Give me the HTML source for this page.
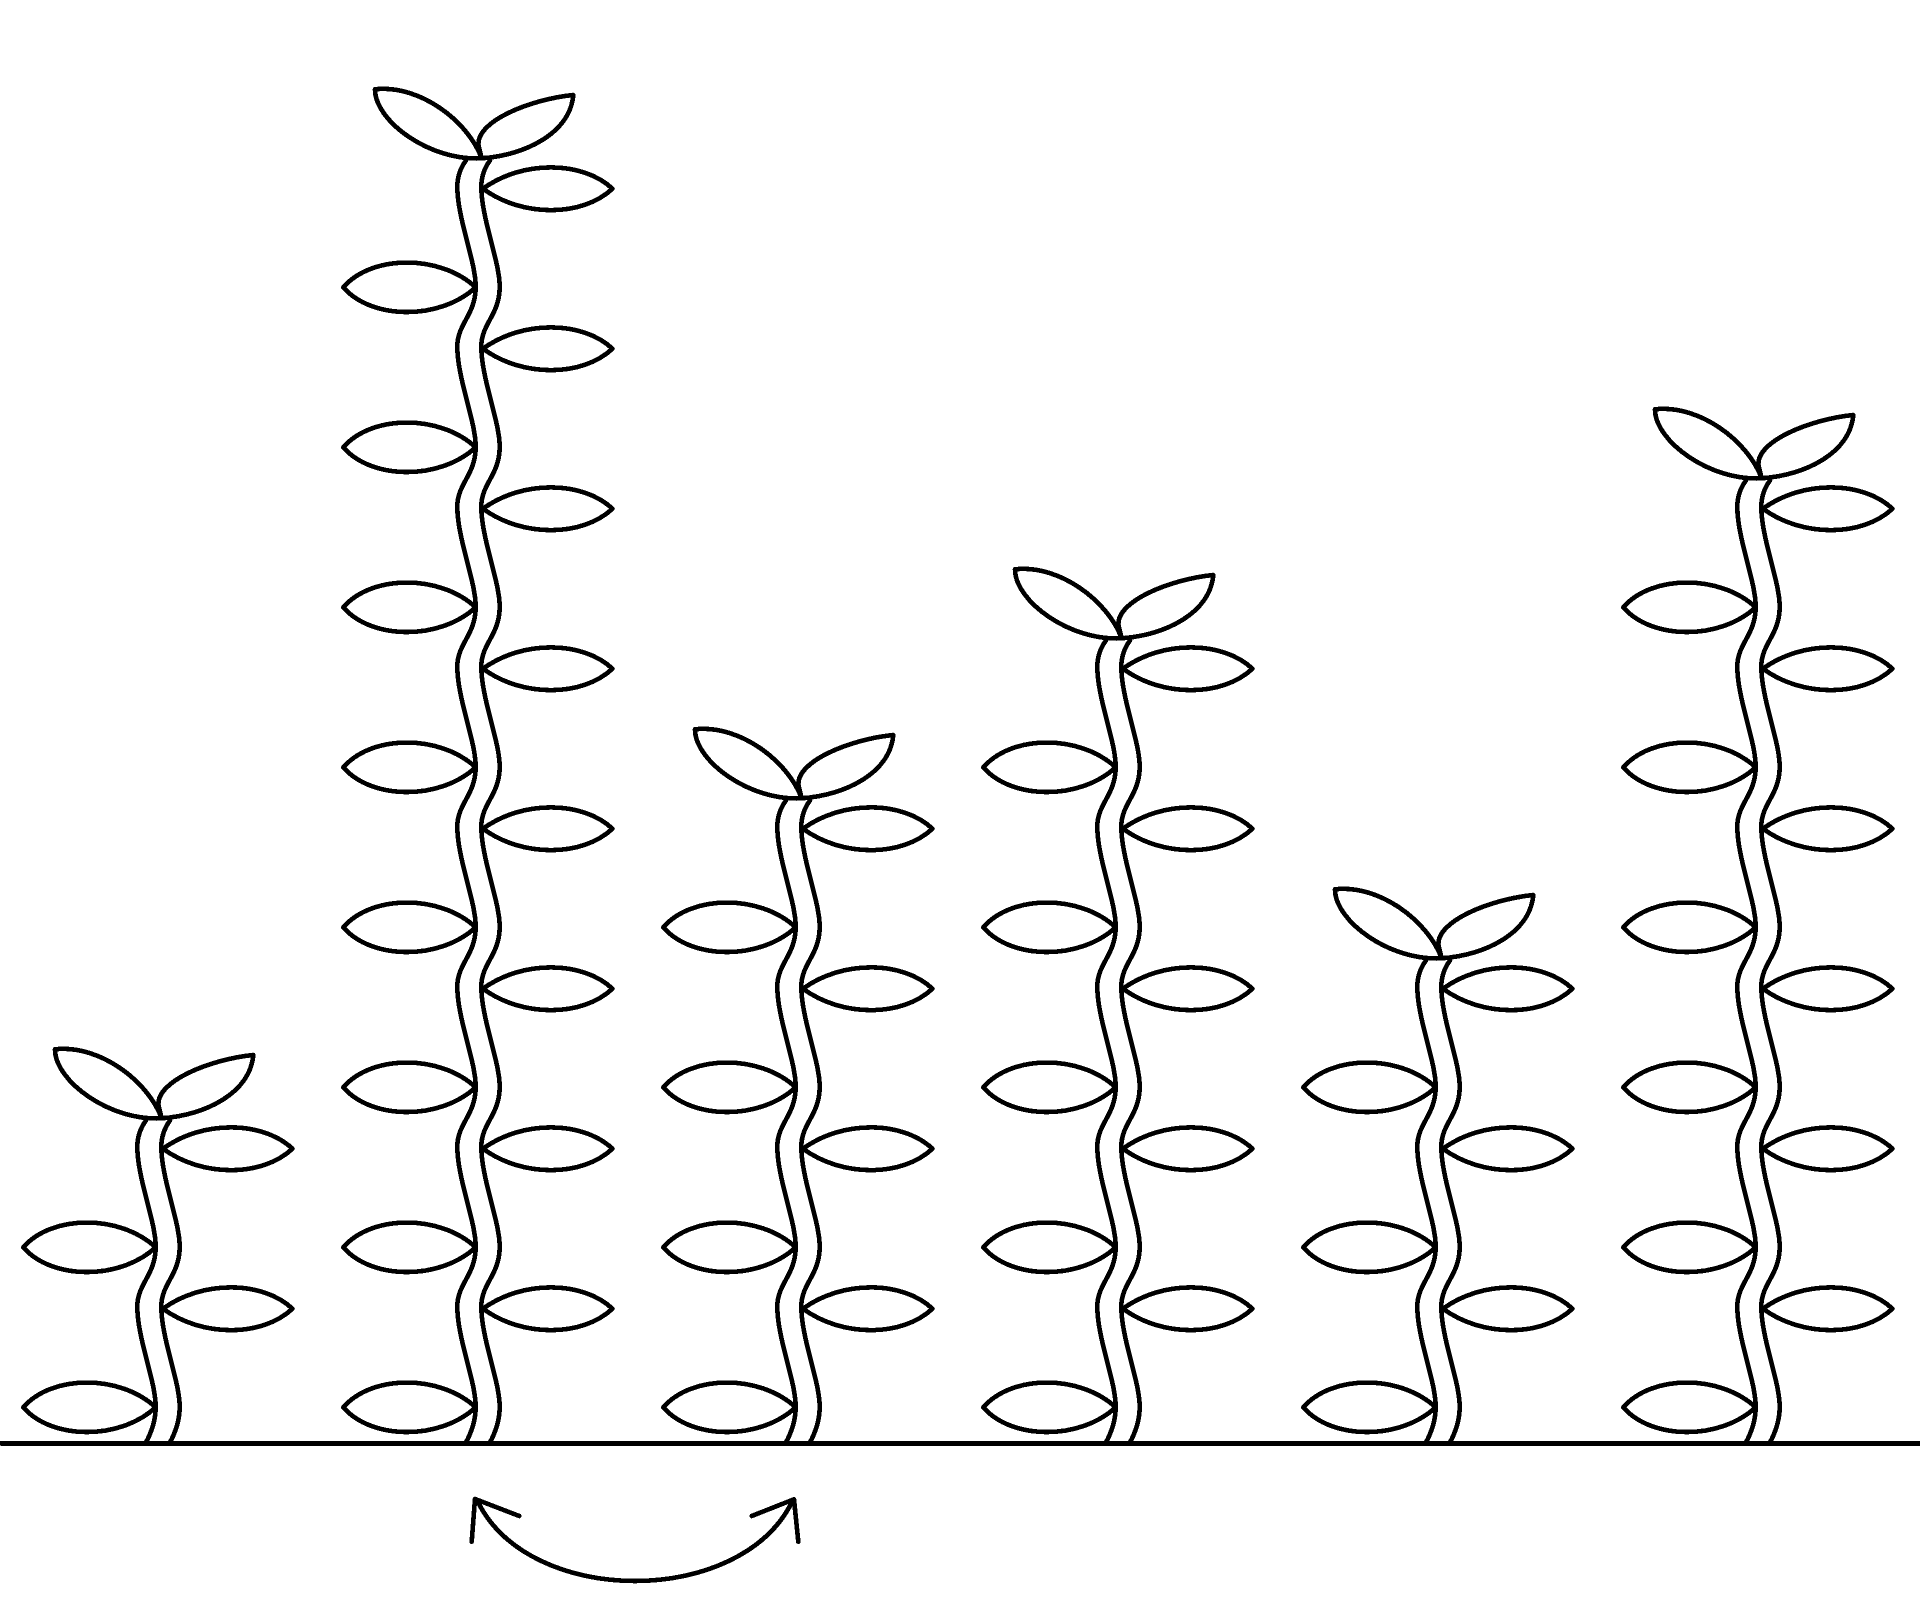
<!DOCTYPE html>
<html lang="en">
<head>
<meta charset="utf-8">
<title>Plant growth pictogram</title>
<style>
html,body{margin:0;padding:0;background:#fff;}
svg{display:block;}
</style>
</head>
<body>
<svg id="chart" xmlns="http://www.w3.org/2000/svg" width="1920" height="1621" viewBox="0 0 1920 1621" fill="none" stroke="#000" stroke-width="4.6" stroke-linecap="round" stroke-linejoin="round" shape-rendering="crispEdges">
  <rect x="0" y="0" width="1920" height="1621" fill="#fff" stroke="none"></rect>
  <g id="plants"></g>
  <line x1="1" y1="1443.4" x2="1920" y2="1443.4" stroke-width="4.7"></line>
  <g>
    <path d="M477 1500 C528 1608 742 1608 793 1500"></path>
    <path d="M519.3 1516 L475 1499 L471.7 1541.7"></path>
    <path d="M751.7 1516 L794 1499.3 L798.3 1541.7"></path>
  </g>
</svg>
<script>
const categories = ['plant-1', 'plant-2', 'plant-3', 'plant-4', 'plant-5', 'plant-6'];
const leafPairs = [2, 8, 4, 5, 3, 6];

const SVG_NS = 'http://www.w3.org/2000/svg';
const BASELINE = 1443.3;
const STEP_X = 320;
const UNIT_Y = 160;
const STEM_GAP = 24;

function xPos(i) { return i * STEP_X; }
function yPos(v) { return BASELINE - v * UNIT_Y; }

function stemPath(i, value, dx) {
  const ox = xPos(i) + dx;
  const p = (x, up) => (ox + x).toFixed(1) + ' ' + (BASELINE - up).toFixed(1);
  let d = 'M' + p(145.5, 0) + ' C' + p(151, 10) + ' ' + p(155.7, 22) + ' ' + p(155.7, 36.7);
  for (let k = 0; k < value; k++) {
    const u = k * UNIT_Y;
    d += ' C' + p(155.7, u + 62) + ' ' + p(137.3, u + 105) + ' ' + p(137.3, u + 136.7);
    if (k < value - 1) {
      d += ' C' + p(137.3, u + 160) + ' ' + p(155.7, u + 168) + ' ' + p(155.7, u + 196.7);
    }
  }
  const t = (value - 1) * UNIT_Y;
  d += ' C' + p(137.3, t + 148) + ' ' + p(141, t + 156) + ' ' + p(146, t + 163);
  return d;
}

function leafLeftPath(i, k) {
  const ox = xPos(i), oy = yPos(k);
  const p = (x, up) => (ox + x).toFixed(1) + ' ' + (oy - up).toFixed(1);
  return 'M' + p(23.3, 36) + ' C' + p(52, 69) + ' ' + p(120, 69) + ' ' + p(155.7, 36) +
         ' C' + p(120, 3) + ' ' + p(52, 3) + ' ' + p(23.3, 36) + ' Z';
}

function leafRightPath(i, k) {
  const ox = xPos(i), oy = yPos(k);
  const p = (x, up) => (ox + x).toFixed(1) + ' ' + (oy - up).toFixed(1);
  return 'M' + p(163, 134.6) + ' C' + p(202, 163) + ' ' + p(262, 163) + ' ' + p(292.5, 134.6) +
         ' C' + p(262, 106) + ' ' + p(202, 106) + ' ' + p(163, 134.6) + ' Z';
}

function crownLeftPath(i, value) {
  const ox = xPos(i), oy = yPos(value);
  const p = (x, up) => (ox + x).toFixed(1) + ' ' + (oy - up).toFixed(1);
  return 'M' + p(55, 74) + ' C' + p(100, 79) + ' ' + p(148, 42) + ' ' + p(161.7, 5) +
         ' C' + p(110, 2) + ' ' + p(55, 42) + ' ' + p(55, 74) + ' Z';
}

function crownRightPath(i, value) {
  const ox = xPos(i), oy = yPos(value);
  const p = (x, up) => (ox + x).toFixed(1) + ' ' + (oy - up).toFixed(1);
  return 'M' + p(253.3, 68.3) + ' C' + p(210, 64) + ' ' + p(156, 42) + ' ' + p(158.5, 18) +
         ' L' + p(161.7, 5) + ' C' + p(205, 8) + ' ' + p(250, 30) + ' ' + p(253.3, 68.3) + ' Z';
}

function addPath(parent, d) {
  const el = document.createElementNS(SVG_NS, 'path');
  el.setAttribute('d', d);
  parent.appendChild(el);
  return el;
}

const plantsRoot = document.getElementById('plants');

categories.forEach((name, i) => {
  const value = leafPairs[i];
  const g = document.createElementNS(SVG_NS, 'g');
  
  
  plantsRoot.appendChild(g);

  const stemLeft = addPath(g, stemPath(i, value, 0));
  
  

  const stemRight = addPath(g, stemPath(i, value, STEM_GAP));
  
  

  for (let k = 0; k < value; k++) {
    const left = addPath(g, leafLeftPath(i, k));
    
    

    const right = addPath(g, leafRightPath(i, k));
    
    
  }

  const crownLeft = addPath(g, crownLeftPath(i, value));
  
  

  const crownRight = addPath(g, crownRightPath(i, value));
  
  
});
</script>
</body>
</html>
